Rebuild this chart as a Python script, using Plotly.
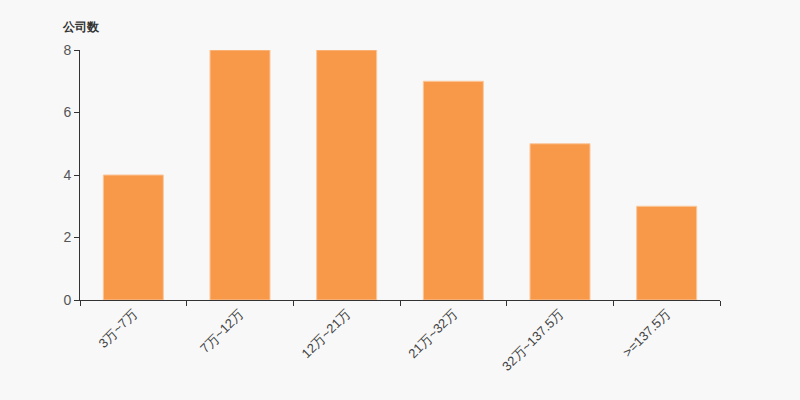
import plotly.graph_objects as go

categories = ["3万~7万", "7万~12万", "12万~21万", "21万~32万", "32万~137.5万", ">=137.5万"]
counts = [4, 8, 8, 7, 5, 3]

fig = go.Figure()
fig.add_trace(go.Bar(
    x=categories, y=counts,
    marker=dict(color="#f89849", line=dict(color="#fbc79c", width=1)),
    hoverinfo="x+y",
))

fig.update_layout(
    width=800, height=400,
    paper_bgcolor="#f8f8f8", plot_bgcolor="#f8f8f8",
    margin=dict(l=80, r=80, t=50, b=100),
    bargap=0.4375,
    showlegend=False,
    font=dict(family="Liberation Sans, Arial, sans-serif", size=13, color="#333"),
    xaxis=dict(
        type="category", tickson="boundaries", ticks="outside", ticklen=5,
        tickcolor="#333", showline=True, linecolor="#333", linewidth=1,
        tickangle=-45, showgrid=False, tickfont=dict(size=13, color="#444"),
    ),
    yaxis=dict(
        range=[0, 8], dtick=2, ticks="outside", ticklen=5, tickcolor="#333",
        showline=True, linecolor="#333", linewidth=1, showgrid=False,
        zeroline=False, tickfont=dict(size=14, color="#555"),
    ),
    annotations=[dict(
        text="<b>公司数</b>", xref="paper", yref="paper", x=-0.031, y=1.092,
        xanchor="left", yanchor="middle", showarrow=False,
        font=dict(size=12, color="#333"),
    )],
)

fig.write_html(
    "out.html",
    config={"displayModeBar": False},
    post_script="document.body.style.margin='0';document.body.style.background='#f8f8f8';",
)
